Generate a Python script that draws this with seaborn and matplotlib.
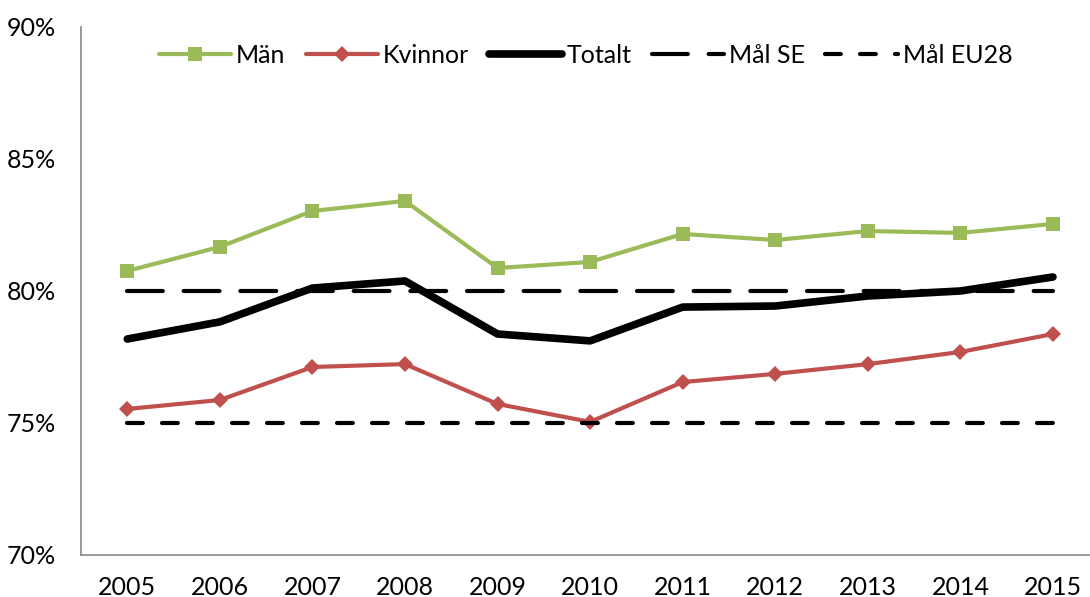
import matplotlib
matplotlib.use("Agg")
import matplotlib.pyplot as plt
from matplotlib.ticker import FixedLocator, FuncFormatter
import seaborn as sns
import pandas as pd

years = ["2005", "2006", "2007", "2008", "2009", "2010",
         "2011", "2012", "2013", "2014", "2015"]
man = [80.76, 81.67, 83.03, 83.41, 80.87, 81.10, 82.16, 81.93, 82.27, 82.20, 82.54]
kvinnor = [75.53, 75.87, 77.12, 77.23, 75.72, 75.04, 76.55, 76.86, 77.23, 77.69, 78.37]
totalt = [78.18, 78.83, 80.11, 80.38, 78.37, 78.11, 79.39, 79.43, 79.81, 80.00, 80.53]
mal_se = [80] * len(years)
mal_eu28 = [75] * len(years)

df = pd.DataFrame({"year": years, "Män": man, "Kvinnor": kvinnor,
                   "Totalt": totalt, "Mål SE": mal_se, "Mål EU28": mal_eu28})
df["pos"] = range(len(years))

sns.set_style("white")
plt.rcParams["font.family"] = ["Lato", "DejaVu Sans"]
plt.rcParams["text.color"] = "black"
plt.rcParams["xtick.color"] = "black"
plt.rcParams["ytick.color"] = "black"

fig = plt.figure(figsize=(10.9, 5.97), dpi=100)
ax = fig.add_axes([0.0743, 0.0704, 0.9257, 0.8844])

sns.lineplot(data=df, x="pos", y="Män", ax=ax, color="#9BBB59", lw=3,
             marker="s", markersize=10, markeredgewidth=0, label="Män")
sns.lineplot(data=df, x="pos", y="Kvinnor", ax=ax, color="#C0504D", lw=3,
             marker="D", markersize=8, markeredgewidth=0, label="Kvinnor")
sns.lineplot(data=df, x="pos", y="Totalt", ax=ax, color="black", lw=5.5,
             solid_capstyle="round", label="Totalt")
sns.lineplot(data=df, x="pos", y="Mål SE", ax=ax, color="black", lw=3,
             label="Mål SE")
sns.lineplot(data=df, x="pos", y="Mål EU28", ax=ax, color="black", lw=3,
             label="Mål EU28")
lines = ax.get_lines()
lines[3].set_dashes([8.6, 5])
lines[3].set_dash_capstyle("round")
lines[4].set_dashes([3.8, 4.6])
lines[4].set_dash_capstyle("round")

ax.set_ylim(70, 90)
ax.set_xlim(-0.5, 10.4)
ax.yaxis.set_major_locator(FixedLocator([70, 75, 80, 85, 90]))
ax.yaxis.set_major_formatter(FuncFormatter(lambda v, p: f"{v:.0f}%"))
ax.set_xticks(range(len(years)))
ax.set_xticklabels(years)
ax.xaxis.set_minor_locator(FixedLocator([i + 0.5 for i in range(-1, 10)]))
ax.tick_params(axis="x", which="major", length=0, labelsize=18, pad=15)
ax.tick_params(axis="x", which="minor", length=6, color="#878787", width=1.2, direction="out")
ax.tick_params(axis="y", length=6, color="#878787", width=1.2, direction="out",
               labelsize=18, pad=12)
ax.set_xlabel("")
ax.set_ylabel("")

for side in ["top", "right"]:
    ax.spines[side].set_visible(False)
for side in ["left", "bottom"]:
    ax.spines[side].set_color("#878787")
    ax.spines[side].set_linewidth(1.2)

leg = ax.legend(loc="upper center", bbox_to_anchor=(0.5, 1.01), ncol=5, frameon=False,
                fontsize=18, handlelength=2.9, columnspacing=0.8, handletextpad=0.2)

fig.savefig("out.png", dpi=100)
